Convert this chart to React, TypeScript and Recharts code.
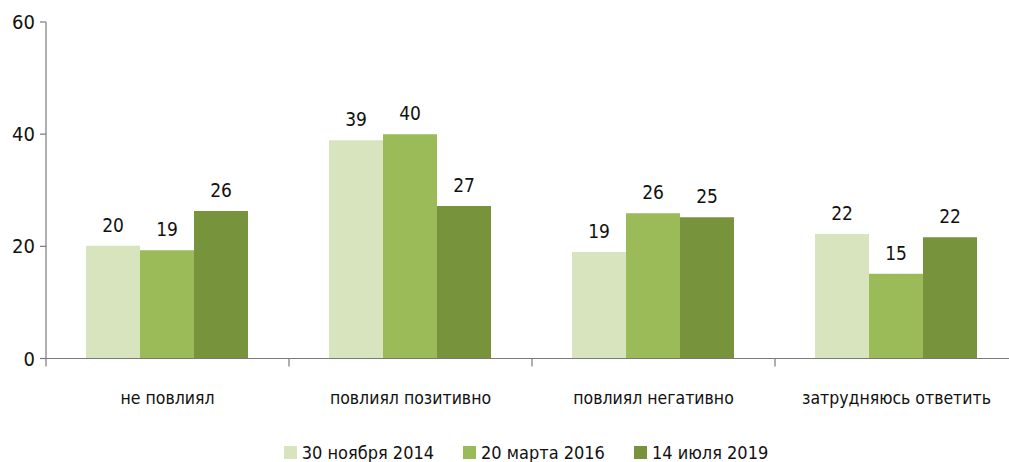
import React from "react";
import { BarChart, Bar, XAxis, YAxis, Legend, LabelList } from "recharts";

const categories = ["не повлиял", "повлиял позитивно", "повлиял негативно", "затрудняюсь ответить"];
const nov2014 = [20.1, 38.9, 19.0, 22.2];
const mar2016 = [19.3, 40.0, 25.9, 15.1];
const jul2019 = [26.3, 27.2, 25.2, 21.6];
const seriesNames = ["30 ноября 2014", "20 марта 2016", "14 июля 2019"];
const yTicks = [0, 20, 40, 60];

const colors = ["#D7E4BD", "#9BBB59", "#77933C"];
const FONT = "'Liberation Sans Narrow', 'Arial Narrow', 'DejaVu Sans Condensed', Roboto, sans-serif";
const AXIS = "#7a7a7a";

const data = categories.map((name, i) => ({
  name,
  s0: nov2014[i],
  s1: mar2016[i],
  s2: jul2019[i],
}));

// category label at the band centre, tick mark at the band's left edge
function CategoryTick(props: any) {
  const { x, y, payload } = props;
  const half = payload.offset ?? 121.5;
  const axisY = y - 8;
  return (
    <g>
      <line x1={x - half} x2={x - half} y1={axisY} y2={axisY + 8} stroke={AXIS} strokeWidth={1.2} />
      <text x={x} y={axisY + 45} textAnchor="middle" fontSize={17.5} fontFamily={FONT} fill="#111">
        {payload.value}
      </text>
    </g>
  );
}

function LegendContent() {
  return (
    <div
      style={{
        display: "flex",
        justifyContent: "center",
        alignItems: "center",
        height: 26,
        paddingLeft: 34,
        paddingTop: 6,
        boxSizing: "border-box",
        fontFamily: FONT,
        fontSize: 18,
        color: "#111",
      }}
    >
      {seriesNames.map((n, i) => (
        <div key={n} style={{ display: "flex", alignItems: "center", marginRight: i < 2 ? 29 : 0 }}>
          <span style={{ width: 13, height: 13, background: colors[i], marginRight: 5, display: "inline-block" }} />
          <span>{n}</span>
        </div>
      ))}
    </div>
  );
}

export default function App() {
  return (
    <div style={{ position: "absolute", left: 0, top: 0, width: 1009, height: 462, overflow: "hidden", background: "#fff" }}>
      <BarChart
        width={1020}
        height={462}
        data={data}
        margin={{ top: 22, right: 2, left: 0, bottom: 0 }}
        barCategoryGap={40}
        barGap={0}
      >
        <YAxis
          width={46}
          domain={[0, 60]}
          ticks={yTicks}
          interval={0}
          tickSize={6}
          tickMargin={5}
          axisLine={{ stroke: AXIS, strokeWidth: 1.2 }}
          tickLine={{ stroke: AXIS, strokeWidth: 1.2 }}
          tick={{ fontSize: 20, fontFamily: FONT, fill: "#111" }}
        />
        <XAxis
          dataKey="name"
          height={77.5}
          interval={0}
          tickSize={8}
          tickMargin={0}
          tickLine={false}
          axisLine={{ stroke: AXIS, strokeWidth: 1.2 }}
          tick={<CategoryTick />}
        />
        <Legend verticalAlign="bottom" content={<LegendContent />} />
        {["s0", "s1", "s2"].map((k, i) => (
          <Bar key={k} dataKey={k} name={seriesNames[i]} fill={colors[i]} isAnimationActive={false}>
            <LabelList
              dataKey={k}
              position="top"
              offset={14}
              formatter={(v: any) => Math.round(Number(v))}
              style={{ fontSize: 19, fontFamily: FONT, fill: "#111" }}
            />
          </Bar>
        ))}
      </BarChart>
    </div>
  );
}
